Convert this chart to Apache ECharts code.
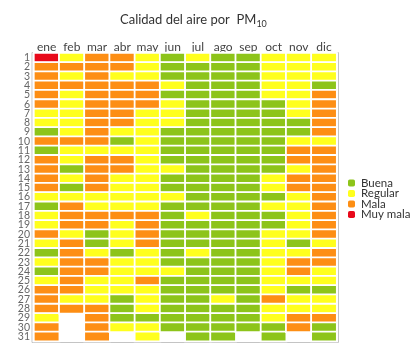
<!DOCTYPE html>
<html>
<head>
<meta charset="utf-8">
<script src="https://cdn.jsdelivr.net/npm/echarts@6/dist/echarts.min.js"></script>
<style>html,body{margin:0;padding:0;background:#fff}#c{width:414px;height:361px}</style>
</head>
<body>
<div id="c"></div>
<script>
// 1 = Buena, 2 = Regular, 3 = Mala, 4 = Muy mala, null = sin dato
const months = ['ene','feb','mar','abr','may','jun','jul','ago','sep','oct','nov','dic'];
const days = Array.from({length: 31}, (_, i) => String(i + 1));
const levels = ['Buena','Regular','Mala','Muy mala'];
const levelColors = ['#8dc41a','#ffff1e','#fd8e14','#e8091a'];

const ene = [4,3,3,3,3,3,2,2,1,3,1,3,3,3,3,2,1,2,2,3,2,1,2,1,2,3,3,3,2,3,3];
const feb = [2,3,2,3,2,2,2,2,2,3,2,2,1,2,1,2,3,3,3,2,3,3,3,3,3,3,2,3,null,null,null];
const mar = [3,3,3,3,3,3,3,3,3,3,2,3,3,3,3,2,2,3,3,1,1,2,3,3,2,2,2,3,3,3,3];
const abr = [3,3,2,3,3,3,3,3,2,1,2,3,3,2,2,2,2,3,2,2,2,1,2,2,2,2,1,1,1,2,null];
const may = [2,2,2,3,3,3,2,2,2,2,2,2,2,2,2,2,2,3,3,3,3,2,2,2,3,2,2,2,1,2,2];
const jun = [1,1,1,2,1,2,2,2,1,1,1,1,2,1,1,2,1,1,1,1,1,1,1,2,1,1,1,1,1,1,null];
const jul = [2,1,1,1,1,1,1,1,1,1,1,1,1,1,1,1,1,2,1,1,1,2,1,1,1,1,1,1,1,1,1];
const ago = [1,1,1,1,1,1,1,1,1,1,1,1,1,1,1,1,1,1,1,1,1,1,1,1,1,1,2,1,1,1,1];
const sep = [1,1,1,1,1,1,1,1,1,1,1,1,1,1,1,1,1,1,1,1,1,1,1,1,1,1,1,1,1,1,null];
const oct = [2,2,2,2,2,1,1,1,1,1,1,1,1,2,2,1,2,1,1,2,2,2,2,2,2,2,3,2,2,1,1];
const nov = [2,2,2,2,2,2,2,1,1,2,3,3,2,3,3,2,2,2,2,2,1,2,3,3,2,1,2,2,3,3,null];
const dic = [2,2,2,1,3,3,3,3,3,2,3,3,3,3,3,3,3,3,3,3,2,3,3,2,2,1,2,2,3,1,1];

const columns = [ene,feb,mar,abr,may,jun,jul,ago,sep,oct,nov,dic];
const data = [];
columns.forEach((col, x) => col.forEach((v, y) => { if (v !== null) data.push([x, y, v]); }));

const hiddenAxis = {show: false};

const chart = echarts.init(document.getElementById('c'), null, {renderer: 'canvas'});
chart.setOption({
  animation: false,
  title: {
    text: '{a|Calidad del aire por  PM}{b|10}',
    left: 115, top: 6,
    textStyle: {
      rich: {
        a: {fontFamily: 'Lato', fontSize: 13, fontWeight: 'normal', color: '#333'},
        b: {fontFamily: 'Lato', fontSize: 9, fontWeight: 'normal', color: '#333', padding: [9, 0, 0, 0]}
      }
    }
  },
  grid: [
    {left: 34, right: 77.4, top: 53, bottom: 19.8},
    {left: 32, right: 75.5, top: 52.5, bottom: 18.5, show: true, borderColor: '#c4c4c4', borderWidth: 1}
  ],
  xAxis: [{
    type: 'category', data: months, position: 'top', gridIndex: 0,
    axisLine: {show: false}, axisTick: {show: false}, splitLine: {show: false},
    axisLabel: {fontFamily: 'Lato', fontSize: 12, color: '#444', margin: 0, interval: 0}
  }, Object.assign({type: 'value', gridIndex: 1}, hiddenAxis)],
  yAxis: [{
    type: 'category', data: days, inverse: true, gridIndex: 0,
    axisLine: {show: false}, axisTick: {show: false}, splitLine: {show: false},
    axisLabel: {fontFamily: 'Lato', fontSize: 10.5, color: '#666', margin: 4, interval: 0}
  }, Object.assign({type: 'value', gridIndex: 1}, hiddenAxis)],
  visualMap: {
    type: 'piecewise', orient: 'vertical', inverse: true, align: 'left',
    left: 333, top: 162,
    itemWidth: 7, itemHeight: 7, itemGap: -1.5, textGap: 6,
    selectedMode: false,
    textStyle: {fontFamily: 'Lato', fontSize: 11.5, color: '#333'},
    dimension: 2, seriesIndex: 0,
    pieces: levels.map((l, i) => ({value: i + 1, label: l, color: levelColors[i]}))
  },
  series: [{
    type: 'heatmap', data: data, xAxisIndex: 0, yAxisIndex: 0,
    itemStyle: {borderColor: '#fff', borderWidth: 1.8},
    emphasis: {disabled: true}
  }]
});
</script>
</body>
</html>
